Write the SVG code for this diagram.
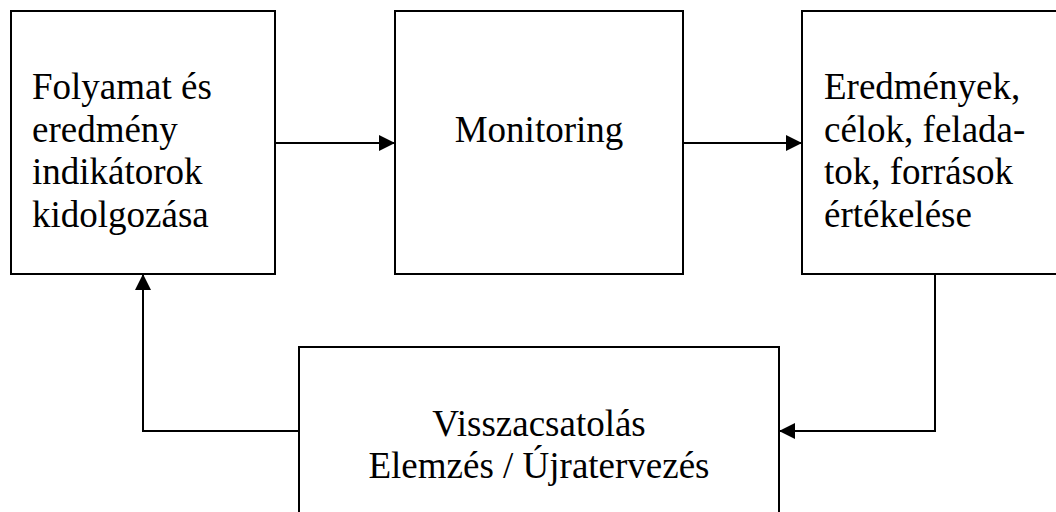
<svg xmlns="http://www.w3.org/2000/svg" width="1056" height="512" viewBox="0 0 1056 512">
  <style>
    .box { fill: #ffffff; stroke: #000000; stroke-width: 2; }
    .lbl { font-family: "Liberation Serif", "Times New Roman", serif; font-size: 37px; fill: #000000; }
    .mid { text-anchor: middle; }
    .edge { fill: none; stroke: #000000; stroke-width: 2; marker-end: url(#arrow); }
  </style>
  <defs>
    <marker id="arrow" markerUnits="userSpaceOnUse" markerWidth="16" markerHeight="16" refX="16" refY="8" orient="auto">
      <path d="M0,0 L16,8 L0,16 Z" fill="#000000"/>
    </marker>
  </defs>
  <rect width="1056" height="512" fill="#ffffff"/>

  <g id="connectors">
    <path class="edge" d="M275,143 H395"/>
    <path class="edge" d="M683,143 H802"/>
    <path class="edge" d="M935,274 V431 H779"/>
    <path class="edge" d="M299,431 H143 V274"/>
  </g>

  <g id="node-indicators">
    <rect class="box" x="11" y="11" width="264" height="263"/>
    <text class="lbl" x="32" y="99">Folyamat és</text>
    <text class="lbl" x="32" y="142">eredmény</text>
    <text class="lbl" x="32" y="184">indikátorok</text>
    <text class="lbl" x="32" y="227">kidolgozása</text>
  </g>

  <g id="node-monitoring">
    <rect class="box" x="395" y="11" width="288" height="263"/>
    <text class="lbl mid" x="539" y="142">Monitoring</text>
  </g>

  <g id="node-evaluation">
    <rect class="box" x="802" y="11" width="270" height="263"/>
    <text class="lbl" x="824" y="99">Eredmények,</text>
    <text class="lbl" x="824" y="142">célok, felada-</text>
    <text class="lbl" x="824" y="184">tok, források</text>
    <text class="lbl" x="824" y="227">értékelése</text>
  </g>

  <g id="node-feedback">
    <rect class="box" x="299" y="347" width="480" height="180"/>
    <text class="lbl mid" x="539" y="436">Visszacsatolás</text>
    <text class="lbl mid" x="539" y="478">Elemzés / Újratervezés</text>
  </g>
</svg>
